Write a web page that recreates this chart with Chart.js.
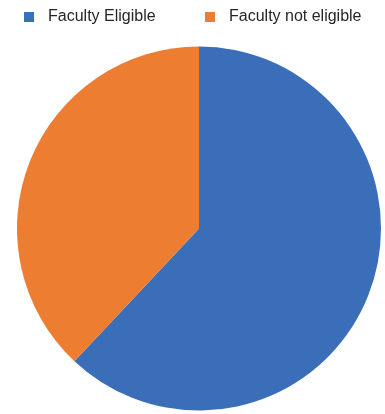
<!DOCTYPE html>
<html>
<head>
<meta charset="utf-8">
<script src="https://cdn.jsdelivr.net/npm/chart.js@4/dist/chart.umd.min.js"></script>
<style>
    html, body { margin: 0; padding: 0; background: #fff; }
    #wrap { position: relative; width: 385px; height: 414px; }
    #legend { position: absolute; top: 6px; left: 0; width: 385px; height: 20px;
              font-family: "Liberation Sans", Arial, sans-serif; font-size: 16px; color: #262626; }
    .lg-item { position: absolute; top: 0; line-height: 20px; white-space: nowrap; }
    .lg-box { position: absolute; top: 6px; left: 0; width: 10px; height: 10px; }
    .lg-text { position: absolute; left: 24px; top: 0; }
</style>
</head>
<body>
<div id="wrap">
    <canvas id="pieChart" width="385" height="414"></canvas>
    <div id="legend"></div>
</div>
<script>
// data
var labels = ['Faculty Eligible', 'Faculty not eligible'];
var values = [62, 38];
var colors = ['#3b6eb9', '#ed7d31'];
var legendX = [24, 205];

var legendEl = document.getElementById('legend');
labels.forEach(function (lbl, i) {
    var item = document.createElement('div');
    item.className = 'lg-item';
    item.style.left = legendX[i] + 'px';
    item.innerHTML = '<span class="lg-box" style="background:' + colors[i] + '"></span>' +
        '<span class="lg-text">' + lbl + '</span>';
    legendEl.appendChild(item);
});

var ctx = document.getElementById('pieChart').getContext('2d');
var pieChart = new Chart(ctx, {
    type: 'pie',
    data: {
        labels: labels,
        datasets: [{
            data: values,
            backgroundColor: colors,
            borderWidth: 0
        }]
    },
    options: {
        responsive: false,
        animation: false,
        layout: { padding: { top: 46, bottom: 3, left: 17, right: 4 } },
        plugins: {
            legend: { display: false },
            tooltip: { enabled: false }
        }
    }
});
</script>
</body>
</html>
